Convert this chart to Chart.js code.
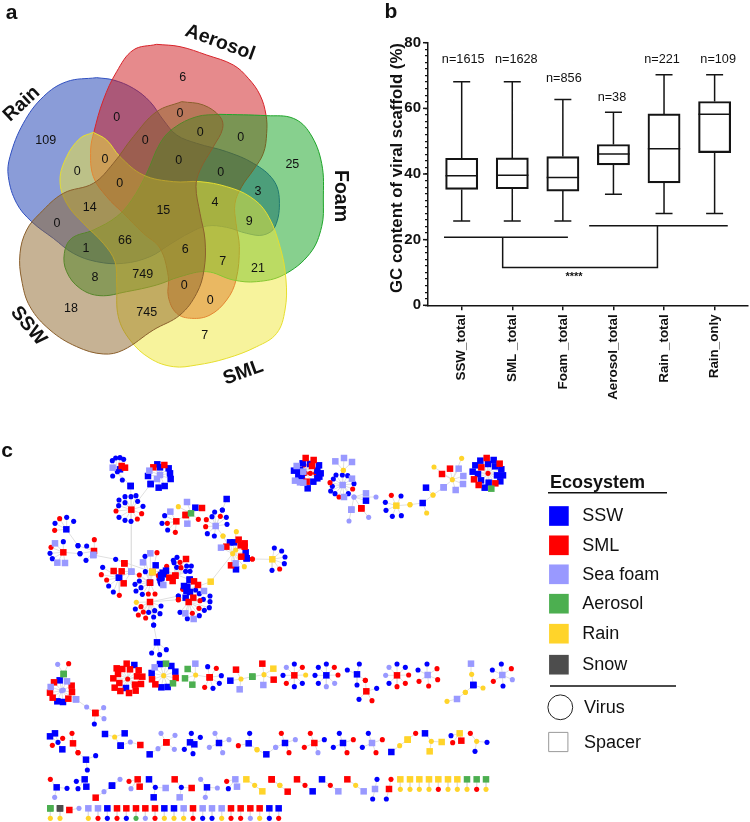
<!DOCTYPE html>
<html><head><meta charset="utf-8">
<script src="https://cdn.jsdelivr.net/npm/chart.js@4"></script>
<style>html,body{margin:0;padding:0;background:#fff}#wrap{position:relative;width:750px;height:822px;overflow:hidden}canvas{position:absolute}</style>
</head><body><div id="wrap"><canvas id="page" width="750" height="822" style="left:0;top:0"></canvas><canvas id="box" width="375" height="410" style="left:375px;top:0"></canvas></div>
<script>
// ---------- panel b values
const categories=['SSW_total','SML _total','Foam _total','Aerosol_total','Rain _total','Rain_only'];
const counts=['n=1615','n=1628','n=856','n=38','n=221','n=109'];
const whiskerLow=[25.7,25.7,25.7,33.8,28,28];
const quartile1=[35.3,35.5,34.8,42.8,37.3,46.5];
const medians=[39.5,39.6,38.9,46.1,47.7,58.2];
const quartile3=[44.8,44.9,45.3,49,58.3,62.1];
const whiskerHigh=[68.1,68.1,62.7,58.8,70.2,70.2];
const countHeights=[75,75,69.2,63.4,75,75];
const countOffsets=[.03,.08,.02,-.03,-.04,.07];
const bracketLeft=[[-.35,20.7],[2.1,20.7]];
const bracketRight=[[2.52,24.2],[5.26,24.2]];
const bracketJoin=[[.81,20.7],[.81,11.5],[3.87,11.5],[3.87,24.2]];
// ---------- panel a values (outlines traced on a 3x grid)
const rainOutline=[290,233,340,240,400,265,450,305,490,360,530,405,590,430,680,455,760,490,820,540,838,600,825,680,790,705,740,700,680,682,620,678,570,698,510,733,450,770,370,790,290,785,220,760,160,715,95,665,50,610,25,530,30,470,70,370,130,290,200,245,290,233];
const aerosolOutline=[470,133,540,140,620,165,700,195,745,235,780,285,798,345,800,400,790,460,760,510,725,560,705,610,708,670,718,740,708,840,680,900,630,945,575,955,530,940,505,890,505,830,480,745,430,700,370,640,320,590,280,530,272,450,282,395,310,300,350,215,400,150,470,133];
const foamOutline=[660,343,800,347,880,355,930,400,965,490,970,600,965,680,930,760,850,825,770,845,700,840,620,815,540,830,470,855,380,875,300,887,240,865,200,815,193,760,215,715,280,690,350,650,395,600,440,520,480,430,520,385,590,350,660,343];
const smlOutline=[280,397,320,420,360,470,430,525,520,545,600,545,680,560,750,590,800,640,840,740,858,840,855,930,830,1000,770,1040,680,1075,590,1095,520,1100,450,1075,390,1020,355,950,350,850,345,785,310,730,250,670,200,610,180,540,200,470,240,415,280,397];
const sswOutline=[545,305,610,315,660,350,668,385,640,440,600,510,588,560,600,640,615,720,612,810,590,880,540,945,460,990,370,1050,310,1062,230,1040,150,990,90,920,65,840,60,760,80,690,120,640,190,580,280,550,340,490,400,410,470,335,545,305];
const vennValues=['6','109','0','0','0','0','0','0','0','0','0','25','0','3','14','15','4','0','9','66','1','6','7','21','8','749','0','0','18','745','7'];
const vennSpots=[548,232,137,422,350,353,540,341,436,423,601,399,722,413,315,478,232,516,536,481,662,517,877,495,359,552,774,574,269,623,490,631,645,607,171,672,748,664,375,721,258,747,556,750,668,784,774,805,285,834,428,825,553,856,631,902,213,926,440,937,614,1007];
const vennNames=['Aerosol','Rain','Foam','SML','SSW'];
const vennNameSpots=[660,128,65,312,1020,588,730,1118,85,978];
const vennNameTurns=[20,-43,90,-20,50];
// ---------- panel c network: first token of each group is the hub (capital = spacer, small = virus)
const coreStars=[
"b262,95 b247,62 b257,54 b270,53 b281,58 L248,83 R285,83 R275,78 B270,88 b248,108 b277,120 B302,138",
"R304,209 B302,138 B362,132 b303,170 b285,170 b318,167 b267,180 b285,188 b323,184 b339,199 b266,197 r258,213 r335,221 b267,232 b285,241 b303,244 r322,237 L304,395",
"L390,105 B382,73 R403,75 R370,82 B390,82 B416,85 L358,92 B354,108 B420,100 B422,117 B404,138 B386,143 B362,132 L381,117",
"B109,268 r89,236 b110,232 b131,244 b75,250 r74,271 b144,317",
"R100,337 b100,305 L75,310 r63,322 b60,340 b67,356 L82,368 L105,369 b150,341",
"R192,333 r193,299 b170,318 b144,317 b150,341 L190,345 b168,361",
"b257,358 L190,345 R283,370 R367,396",
"L304,395 R283,370 R251,393 R275,394 B267,413 R281,430 R360,428",
"B267,413 b218,382 r214,404 r230,420 b236,438 b250,456 r268,466",
"B360,428 b345,349 B377,376 L361,340 r381,338 L339,367 b346,395 r328,405 b315,433 b328,423 b333,443 b318,453 b337,463 r355,462 r375,462 Y367,396",
"B408,392 B398,398 B393,405 B402,403 R418,413 R428,423 R436,407 r410,379 r385,407 b387,418 b397,417 b390,427 L400,435 b392,432 Y367,396 B479,419",
"R436,407 b441,352 b430,361 R468,357 r450,367 b470,378 b484,378 b440,382 r453,383 b467,394 b480,394 b432,368",
"B470,452 B479,419 R492,424 R504,435 Y542,425 r458,448 B462,438 B472,440 B480,456 b497,450 b508,461 L522,453 R490,473 B467,473",
"R476,486 B470,452 b445,468 r445,479 r510,482 b520,478 b540,468 b540,485 b538,503 b523,511 b508,527 r507,505 r487,520 L466,520 b450,517 b472,536 L491,537",
"R360,486 y319,487 r333,500 b316,507 r340,516 r325,525 r347,534 b356,517 b374,512 b393,498 b390,521 b371,531 b371,555 b445,468 r445,479",
"B381,607 b371,555 b365,639 b389,644 b409,629",
"G483,220 R467,225 y445,200 L471,186 L472,251 B496,203 R516,204 r505,238",
"R439,244 R467,225 L421,215 b404,227 b396,250 r412,250 b413,270 r436,277",
"L557,258 b577,210 b554,216 r571,229 b546,230 b589,232 r529,239 r527,260 b591,253 b532,281 b553,288 y579,288",
"B590,177 b577,210",
"y608,341 y579,288 y619,275 L573,323 B600,307 B612,307 R626,299 R644,310 R632,316 R644,320 R589,320 B647,337 B650,355 R634,350 y617,330 y630,352 R603,376 L617,370 B618,388 y643,380 y542,425",
"Y727,358 b733,324 b755,333 b765,351 b763,371 r749,387 b726,391 r667,357",
"B650,355 r667,357"];
const upperStars=[
"L70,95 R77,54 R101,60 L50,78 B68,70 B90,72 R96,78 B117,76 B42,92 B60,90 B112,92 B122,100 B55,105 B112,115 L45,122 L60,127 L70,128 R80,125 B100,125 B83,145 B65,115 B118,110 r76,100 r91,100 r107,100 r72,75",
"L188,135 b168,105 b187,105 b203,107 L216,116 b160,117 b222,131 r150,128 b157,139 r218,147 b152,153 b165,161 r177,171 L192,171 b205,161 l222,171 y190,91",
"y190,91 L166,64 L192,54 L216,66",
"l222,171 L258,160 B258,182 l288,171 L214,209 R244,205",
"L214,209 l207,243","R244,205 l266,232",
"Y349,197 r334,166 b363,168 b316,187 b318,211 b337,229 b364,227 y390,194",
"B428,189 y390,194 y440,219 y459,165",
"y459,165 B438,143 L491,142",
"y517,119 L491,142 R486,102 R510,86 y462,81 L536,86 y545,55 L550,108 L549,132 L527,150",
"r624,100 R620,54 B601,62 B641,60 B586,76 B624,72 B645,79 R659,71 B664,88 R604,82 B578,95 B594,102 B651,106 B669,106 B603,121 R582,118 B661,124 B626,128 R646,130 R596,135 B614,143 G634,146"];
const midLeftStars=[
"l95,152 B89,121 L111,124 R72,127 R125,137 L62,141 R126,156 R60,158 R115,176 R68,173 B82,184 B99,186 l100,150 G101,102 L138,178",
"G101,102 l83,73 r116,71",
"l170,201 L138,178 R196,219","R196,219 l221,203 l222,236 b193,252",
"r293,117 R290,71 B313,75 R260,85 R277,87 R300,88 R326,91 R264,102 R321,109 R337,110 R250,115 R268,129 R254,143 R315,134 R333,132 R271,153 B288,144 R317,152 R297,159",
"y401,107 B390,72 G408,71 L374,82 B424,78 B436,95 B365,99 R437,114 R366,118 G429,130 R376,133 B394,142 B413,141",
"y497,105 G473,87 L496,71 G465,115 G487,134 R539,112",
"R539,112 b533,80 r559,85 b574,107 b568,130 b549,145 r524,142",
"y633,117 R618,89 B601,122 L629,148 G667,110",
"y702,104 G667,110 R697,71 Y730,86 R731,119 L700,135"];
const midRightStars=[
"R73,106 l49,82 b73,72 r97,82 y107,105 b97,130 b73,140 r49,130 b39,106",
"B169,106 b145,82 b169,72 r193,82 r204,105 l194,130 l169,140 b145,130 b135,106",
"B261,103 b232,90 b268,72 b261,135 r286,121","R289,154 r286,121 b320,145 r306,182 b267,178",
"R381,106 l357,82 b381,72 b406,82 r416,105 r406,130 r381,140 b357,130 l347,106",
"L473,105 b471,72 r501,86 r503,119 r476,138 r447,124 b444,90",
"y605,103 L603,71 B610,135","B610,135 y639,144 y586,157","L561,177 y586,157 y531,184",
"L697,105 b694,72 r724,86 l727,119 b699,138 r670,124 b667,90"];
const lowLeftStars=[
"b84,52 B60,34 B75,25 r98,40 r67,61 B97,73","R129,55 r126,25 r144,83","B168,104 r144,83 b197,92 b172,135",
"y254,36 B225,27 B284,25 B272,62","l301,51 B272,62 R331,60","l384,71 B359,88 R409,52","R409,52 l393,25 l435,31 l433,73",
"B480,52 B493,58 b484,25 b511,37 b463,73 b489,86",
"B567,54 l555,25 l597,44 l538,67 l578,83","B656,55 b659,25 r625,62 y681,74","B709,88 y681,74 l737,67",
"B80,187 r61,163 b111,190 l74,217","B164,163 B169,185 b139,169 b144,191",
"l222,200 R197,218 B246,182","B246,182 l270,163","R323,163 R329,185 r297,169 l303,191",
"b376,187 B357,163 L407,189 B371,217","b454,187 R434,163 R485,189 L449,217","B531,187 l512,163 l562,189 l526,217",
"L616,163 L621,185 r590,169 b595,191","y674,181 Y649,163 Y697,199","y750,181 R725,163",
"G61,250","K90,250","R118,255 l147,250"];
const lowRightStars=[
"B45,54 r34,25 l76,44 l17,67 r57,83","R133,54 r121,25 b163,44 r103,67 l144,83","B219,54 b208,25 r250,44 b190,67 r231,83","L306,54 b295,25 r337,44 b277,67 r318,83",
"y389,62 B364,81 Y413,44","Y413,44 r437,25","y484,49 B465,25 Y515,51 Y479,79","Y569,25 b543,32 R574,47 r548,53","y620,49 r601,25 b651,52 b615,79",
"y29,181 R53,200 R5,163","r105,181 R81,163 B128,199","r181,181 B156,163 L205,199","y257,181 R232,163 L281,199","L315,192 b321,163 b308,222","R357,192 r363,163 b349,222"];
const pairTopCodes=['Y','Y','Y','Y','Y','Y','Y','G','G','G'];
const pairLowCodes=['y','y','y','y','r','y','y','y','r','y'];
const pairColumns=[391,420,448,477,505,534,562,591,620,648];
const rowTopCodes=['L','L','B','R','R','R','R','R','B','B','L','R','L','L','L','R','R','R','R','B','B'];
const rowLowCodes=['y','r','b','r','b','g','l','r','y','y','y','r','b','b','y','r','r','l','y','b','r'];
const rowColumns=[175,204,232,261,289,318,346,375,403,432,461,489,518,546,575,603,632,661,689,718,746];
// ---------- legend
const legendNames=['SSW','SML','Sea foam','Aerosol','Rain','Snow'];
const legendRows=[516,545.3,574.3,603.7,633.7,664.7];
const legendCodes=['B','R','L','G','Y','K'];

const palette={b:'#0000ff',r:'#ff0000',l:'#9999ff',g:'#4caf50',y:'#ffd42a',k:'#4d4d4d'};
const fontFace='"Liberation Sans",Arial,sans-serif';
const fromGrid=(flat)=>{const o=[];for(let i=0;i<flat.length;i+=2)o.push({x:flat[i]/3,y:flat[i+1]/3});return o;};

// build network nodes and edges
const nodes=[],edges=[];
function tok(t,ox,oy){const m=t.match(/^([A-Za-z])(-?[\d.]+),(-?[\d.]+)$/);return{c:m[1],x:ox+m[2]/3,y:oy+m[3]/3};}
function addStars(list,ox,oy){list.forEach(s=>{const ts=s.split(' ').map(t=>tok(t,ox,oy));ts.forEach((n,i)=>{nodes.push(n);if(i){edges.push({x:ts[0].x,y:ts[0].y},{x:n.x,y:n.y},{x:NaN,y:NaN});}});});}
addStars(coreStars,30,440);addStars(upperStars,280,440);addStars(midLeftStars,30,640);addStars(midRightStars,270,640);addStars(lowLeftStars,30,725);addStars(lowRightStars,270,725);
function addPairs(cols,top,low,yTop,yLow,ox,oy){cols.forEach((c,i)=>{const a={c:top[i],x:ox+c/3,y:oy+yTop/3},b={c:low[i],x:ox+c/3,y:oy+yLow/3};nodes.push(a,b);edges.push({x:a.x,y:a.y},{x:b.x,y:b.y},{x:NaN,y:NaN});});}
addPairs(pairColumns,pairTopCodes,pairLowCodes,163,193,270,725);
addPairs(rowColumns,rowTopCodes,rowLowCodes,250,280,30,725);
addPairs([61,90],['G','K'],['y','y'],250,280,30,725);

const nodeSets=[];
['Y','G','K','L','R','B','y','g','l','r','b'].forEach(code=>{
  const lower=code.toLowerCase(),square=code!==lower;
  nodeSets.push({data:nodes.filter(n=>n.c===code).map(n=>({x:n.x,y:n.y})),pointStyle:square?'rect':'circle',pointRadius:square?4.6:2.55,pointBackgroundColor:palette[lower],pointBorderWidth:0,showLine:false});
});
const edgeSet={data:edges,showLine:true,borderColor:'#e0e0e0',borderWidth:1,pointRadius:0,spanGaps:false,tension:0};
const legendSets=[
 {data:legendRows.map(y=>({x:558.9,y})),pointStyle:'rect',pointRadius:13.9,pointBorderWidth:0,pointBackgroundColor:legendCodes.map(c=>palette[c.toLowerCase()]),showLine:false},
 {data:[{x:560.3,y:707.3}],pointStyle:'circle',pointRadius:12.4,pointBackgroundColor:'#fff',pointBorderColor:'#222',pointBorderWidth:1,showLine:false},
 {data:[{x:558.3,y:742}],pointStyle:'rect',pointRadius:13.6,pointBackgroundColor:'#fff',pointBorderColor:'#999',pointBorderWidth:1,showLine:false},
 {data:[{x:548,y:492.7},{x:667,y:492.7},{x:NaN,y:NaN},{x:550,y:686},{x:676,y:686}],showLine:true,borderColor:'#111',borderWidth:1.4,pointRadius:0,spanGaps:false}
];
const vennSet=(flat,fill,line)=>({data:fromGrid(flat),showLine:true,tension:.38,fill:'shape',backgroundColor:fill,borderColor:line,borderWidth:1,pointRadius:0});
const vennSets=[
 vennSet(sswOutline,'rgba(141,101,41,.5)','#8a5f2c'),
 vennSet(smlOutline,'rgba(239,231,57,.5)','#e6de2e'),
 vennSet(foamOutline,'rgba(15,161,29,.5)','#1ea52a'),
 vennSet(aerosolOutline,'rgba(205,21,25,.5)','#d8232a'),
 vennSet(rainOutline,'rgba(21,57,177,.5)','#2f4fc0')
];
const pageTexts={id:'pageTexts',afterDraw(c){const g=c.ctx;const put=(t,x,y,font,rot,align)=>{g.save();g.translate(x,y);g.rotate((rot||0)*Math.PI/180);g.font=font;g.fillStyle='#111';g.textAlign=align||'center';g.textBaseline='middle';g.fillText(t,0,0);g.restore();};
 vennValues.forEach((t,i)=>put(t,vennSpots[2*i]/3,vennSpots[2*i+1]/3,'12.5px '+fontFace));
 vennNames.forEach((t,i)=>put(t,vennNameSpots[2*i]/3,vennNameSpots[2*i+1]/3,'bold 19.5px '+fontFace,vennNameTurns[i]));
 put('a',11.5,13,'bold 21px '+fontFace);put('b',391,12,'bold 21px '+fontFace);put('c',7,451,'bold 21px '+fontFace);
 put('Ecosystem',550,483,'bold 18px '+fontFace,0,'left');
 legendNames.forEach((t,i)=>put(t,582.3,legendRows[i]+.5,'18px '+fontFace,0,'left'));
 put('Virus',584,708,'18px '+fontFace,0,'left');put('Spacer',584,743,'18px '+fontFace,0,'left');
}};
new Chart(document.getElementById('page'),{type:'scatter',data:{datasets:[...legendSets,...nodeSets,edgeSet,...vennSets]},plugins:[pageTexts],
 options:{responsive:false,animation:false,events:[],layout:{padding:0,autoPadding:false},plugins:{legend:{display:false},tooltip:{enabled:false},title:{display:false}},
 scales:{x:{type:'linear',min:0,max:750,display:false},y:{type:'linear',min:0,max:822,reverse:true,display:false}}}});

// ---------- panel b
const ink='#141414';
const seg=[];
categories.forEach((_,i)=>{
 seg.push({x:i,y:whiskerLow[i]},{x:i,y:quartile1[i]},{x:NaN,y:NaN},{x:i,y:quartile3[i]},{x:i,y:whiskerHigh[i]},{x:NaN,y:NaN});
 seg.push({x:i-.168,y:whiskerLow[i]},{x:i+.168,y:whiskerLow[i]},{x:NaN,y:NaN},{x:i-.168,y:whiskerHigh[i]},{x:i+.168,y:whiskerHigh[i]},{x:NaN,y:NaN});
 seg.push({x:i-.32,y:medians[i]},{x:i+.32,y:medians[i]},{x:NaN,y:NaN});
});
[bracketLeft,bracketRight,bracketJoin].forEach(b=>{b.forEach(p=>seg.push({x:p[0],y:p[1]}));seg.push({x:NaN,y:NaN});});
const boxTexts={id:'boxTexts',afterDraw(c){const g=c.ctx,X=c.scales.x,Y=c.scales.y;g.save();g.fillStyle='#111';g.textAlign='center';g.textBaseline='middle';
 g.font='12.7px '+fontFace;counts.forEach((t,i)=>g.fillText(t,X.getPixelForValue(i+countOffsets[i]),Y.getPixelForValue(countHeights[i])));
 g.font='bold 11px '+fontFace;g.fillText('****',199,277);
 g.strokeStyle=ink;g.lineWidth=1.5;[0,20,40,60,80].forEach(v=>{const p=Y.getPixelForValue(v);g.beginPath();g.moveTo(X.left-5,p);g.lineTo(X.left,p);g.stroke();});
 g.font='bold 16.8px '+fontFace;g.translate(22,168);g.rotate(-Math.PI/2);g.fillText('GC content of viral scaffold (%)',0,0);g.restore();}};
new Chart(document.getElementById('box'),{type:'bar',
 data:{datasets:[
  {type:'scatter',data:seg,showLine:true,borderColor:ink,borderWidth:1.5,pointRadius:0,spanGaps:false,tension:0,clip:false},
  {type:'bar',data:categories.map((_,i)=>({x:i,y:[quartile1[i],quartile3[i]]})),barThickness:32.2,backgroundColor:'rgba(0,0,0,0)',borderColor:ink,borderWidth:1.5,borderSkipped:false}]},
 plugins:[boxTexts],
 options:{responsive:false,animation:false,events:[],layout:{padding:{top:42.7,right:2,left:0,bottom:0},autoPadding:false},plugins:{legend:{display:false},tooltip:{enabled:false}},
 scales:{
  x:{type:'linear',offset:false,min:-.666,max:5.66,afterFit(s){s.height=104.7;},grid:{offset:false,drawOnChartArea:false,color:ink,lineWidth:1.5,tickLength:5},border:{color:ink,width:1.5},
     ticks:{includeBounds:false,stepSize:1,autoSkip:false,minRotation:90,maxRotation:90,padding:4,color:'#111',font:{family:fontFace,weight:'bold',size:13.4},callback:v=>categories[v]||''}},
  y:{type:'linear',min:0,max:80,afterFit(s){s.width=53;},grid:{drawOnChartArea:false,color:ink,lineWidth:1.2,tickLength:3},border:{color:ink,width:1.5},
     ticks:{stepSize:2,autoSkip:false,padding:4,color:'#111',font:{family:fontFace,weight:'bold',size:15},callback:v=>v%20===0?String(v):''}}
 }}});
</script></body></html>
